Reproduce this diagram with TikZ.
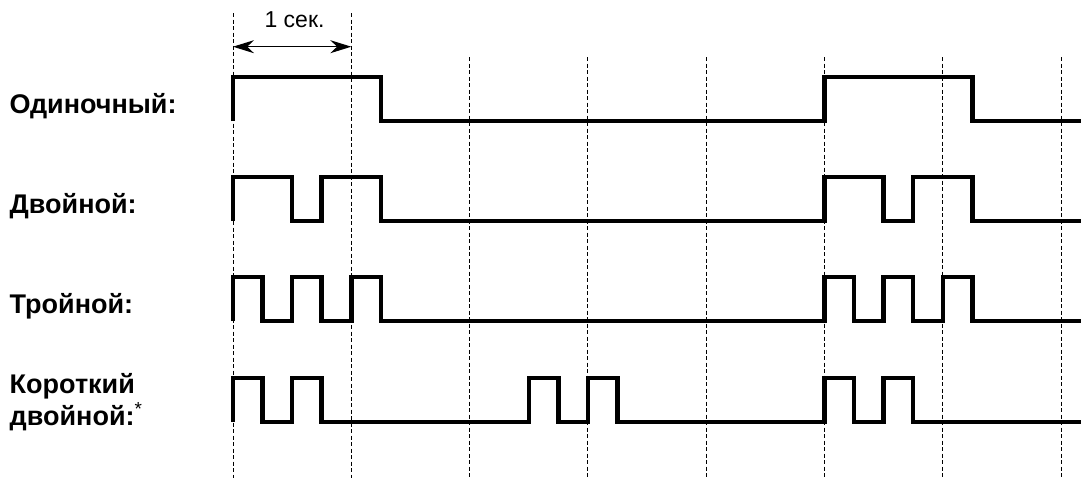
\documentclass[tikz,border=0pt]{standalone}
\usepackage{fontspec}
\setmainfont{Liberation Sans}
\usetikzlibrary{arrows.meta}
\begin{document}
\begin{tikzpicture}[x=1pt,y=-1pt,
  sig/.style={line width=4.5pt,line join=miter,line cap=butt},
  grid/.style={line width=1pt,dash pattern=on 4pt off 2.5pt},
  lab/.style={anchor=base west,inner sep=0pt,font=\fontsize{27}{31.7}\selectfont\bfseries,align=left},
  dim/.style={line width=1.1pt,{Stealth[length=21pt,width=13pt]}-{Stealth[length=21pt,width=13pt]}}]
\useasboundingbox (0,0) rectangle (1081,483);
% labels
\node[lab] (l1) at (9.5,113) {Одиночный:};
\node[lab] (l2) at (9.5,213) {Двойной:};
\node[lab] (l3) at (9.5,313) {Тройной:};
\node[lab] (l4a) at (9.5,393) {Короткий};
\node[lab] (l4b) at (9.5,425) {двойной:\textsuperscript{\mdseries*}};
\begin{scope}[shift={(233,0)},x=118.3pt,y=-1pt]
  % time grid
  \foreach \i in {0,1} \draw[grid] (\i,13) -- (\i,478);
  \foreach \i in {2,...,7} \draw[grid] (\i,57) -- (\i,478);
  % 1 second dimension
  \coordinate (a0) at (0,46.7);
  \coordinate (a1) at (1,46.7);
  \draw[dim] (a0) -- (a1);
  \node[anchor=base,inner sep=0pt,font=\fontsize{23}{27}\selectfont] (sec) at (0.52,27) {1 сек.};
  % row 1: single
  \draw[sig] (0,121) -- (0,77) -- (1.25,77) -- (1.25,121) -- (5,121) -- (5,77)
    -- (6.25,77) -- (6.25,121) -- (7.17,121);
  % row 2: double
  \draw[sig] (0,221) -- (0,177) -- (0.5,177) -- (0.5,221) -- (0.75,221) -- (0.75,177)
    -- (1.25,177) -- (1.25,221) -- (5,221) -- (5,177) -- (5.5,177) -- (5.5,221)
    -- (5.75,221) -- (5.75,177) -- (6.25,177) -- (6.25,221) -- (7.17,221);
  % row 3: triple
  \draw[sig] (0,321) -- (0,277) -- (0.25,277) -- (0.25,321) -- (0.5,321) -- (0.5,277)
    -- (0.75,277) -- (0.75,321) -- (1,321) -- (1,277) -- (1.25,277) -- (1.25,321)
    -- (5,321) -- (5,277) -- (5.25,277) -- (5.25,321) -- (5.5,321) -- (5.5,277)
    -- (5.75,277) -- (5.75,321) -- (6,321) -- (6,277) -- (6.25,277) -- (6.25,321) -- (7.17,321);
  % row 4: short double
  \draw[sig] (0,422) -- (0,378) -- (0.25,378) -- (0.25,422) -- (0.5,422) -- (0.5,378)
    -- (0.75,378) -- (0.75,422) -- (2.5,422) -- (2.5,378) -- (2.75,378) -- (2.75,422)
    -- (3,422) -- (3,378) -- (3.25,378) -- (3.25,422) -- (5,422) -- (5,378)
    -- (5.25,378) -- (5.25,422) -- (5.5,422) -- (5.5,378) -- (5.75,378) -- (5.75,422) -- (7.17,422);
\end{scope}
\end{tikzpicture}
\end{document}
